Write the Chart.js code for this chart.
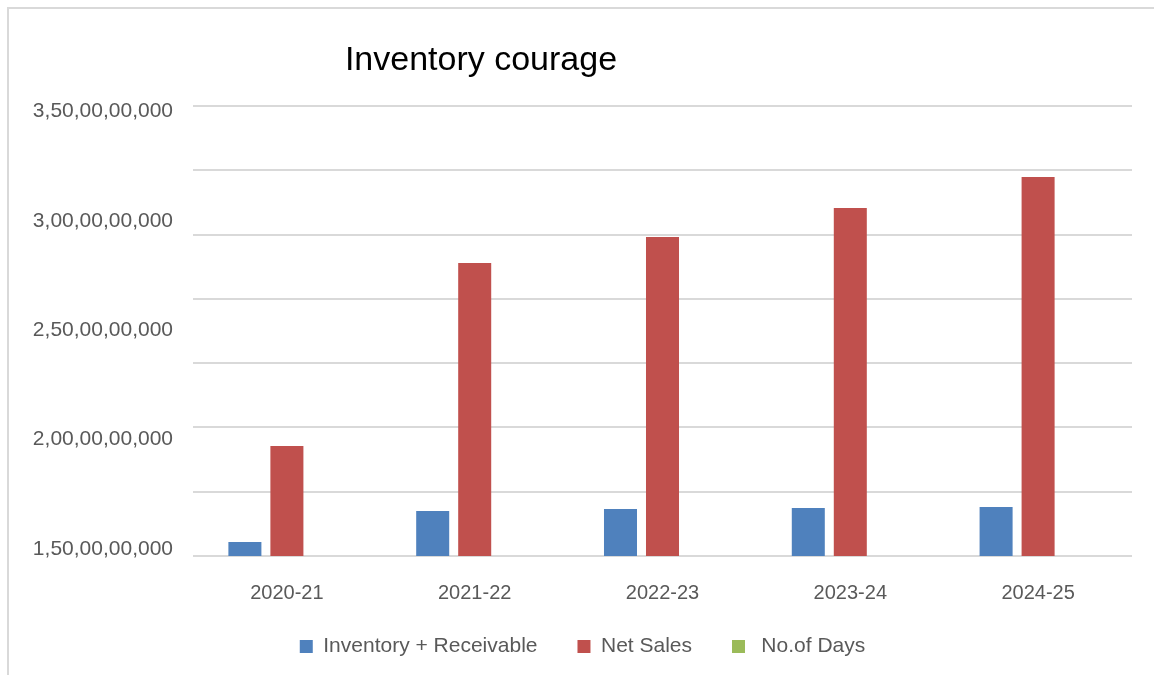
<!DOCTYPE html>
<html>
<head>
<meta charset="utf-8">
<title>Inventory courage</title>
<script src="https://cdn.jsdelivr.net/npm/chart.js@4/dist/chart.umd.min.js"></script>
<style>
  html, body { margin: 0; padding: 0; background: #fff; }
  .wrap { position: relative; width: 1154px; height: 675px; overflow: hidden; }
  .frame { position: absolute; left: 7px; top: 7px; right: -10px; bottom: -10px;
           border-top: 2px solid #d9d9d9; border-left: 2px solid #d9d9d9; }
  canvas { position: absolute; left: 0; top: 0; }
</style>
</head>
<body>
<div class="wrap">
  <div class="frame"></div>
  <canvas id="js_invChart" width="1154" height="675"></canvas>
</div>
<script>
// chart data
const years = ['2020-21', '2021-22', '2022-23', '2023-24', '2024-25'];
const inventoryReceivable = [1532000000, 1674000000, 1683000000, 1688000000, 1692000000];
const netSales = [1971000000, 2808000000, 2927000000, 3060000000, 3201000000];
const noOfDays = [null, null, null, null, null]; // too small to show above the axis minimum
const yTickValues = [1500000000, 2000000000, 2500000000, 3000000000, 3500000000];

const textColor = '#595959';
const fontFamily = '"Liberation Sans", Arial, sans-serif';

// 3,50,00,00,000 style grouping
const indianFormat = (n) => {
  const s = String(Math.round(n));
  const last3 = s.slice(-3);
  const rest = s.slice(0, -3).replace(/\B(?=(\d{2})+(?!\d))/g, ',');
  return rest ? `${rest},${last3}` : last3;
};

// title sits left of centre in the original, so draw it by hand
const titlePlugin = {
  id: 'sideTitle',
  afterDraw: (chart, args, opts) => {
    const { ctx } = chart;
    ctx.save();
    ctx.font = `34px ${fontFamily}`;
    ctx.fillStyle = '#000';
    ctx.textAlign = 'center';
    ctx.textBaseline = 'alphabetic';
    ctx.fillText(opts.text, opts.x, opts.y);
    ctx.restore();
  },
};

// nudge the legend up a bit, its row sits higher than chart.js puts it
const legendNudge = {
  id: 'legendNudge',
  afterLayout: (chart) => {
    chart.legend.top -= 6;
    chart.legend.bottom -= 6;
  },
};

document.addEventListener('DOMContentLoaded', () => {
  const ctx = document.getElementById('js_invChart');

  new Chart(ctx, {
    type: 'bar',
    data: {
      labels: years,
      datasets: [
        { label: 'Inventory + Receivable', data: inventoryReceivable, backgroundColor: '#4f81bd', yAxisID: 'y' },
        { label: 'Net Sales', data: netSales, backgroundColor: '#c0504d', yAxisID: 'y' },
        { label: ' No.of Days', data: noOfDays, backgroundColor: '#9bbb59', yAxisID: 'y' },
      ],
    },
    options: {
      responsive: false,
      animation: false,
      categoryPercentage: 0.671,
      barPercentage: 0.786,
      layout: { padding: { top: 106, right: 22, bottom: 2, left: 33 } },
      scales: {
        x: {
          grid: { display: false, drawTicks: false },
          border: { display: false },
          ticks: { color: textColor, font: { family: fontFamily, size: 20 }, padding: 25 },
          afterFit: (s) => { s.height = 46; },
        },
        y: {
          position: 'left',
          min: 1468000000,
          max: 3526000000,
          afterBuildTicks: (s) => { s.ticks = yTickValues.map(v => ({ value: v })); },
          grid: { display: false, drawTicks: false },
          border: { display: false },
          ticks: {
            color: textColor,
            font: { family: fontFamily, size: 21 },
            padding: 20,
            callback: v => indianFormat(v),
          },
          afterFit: (s) => { s.width = 160; },
        },
        gridY: {
          position: 'right',
          min: 1500000000,
          max: 3500000000,
          ticks: { display: false, count: 8 },
          grid: { color: '#d9d9d9', lineWidth: 2, drawTicks: false },
          border: { display: false },
          afterFit: (s) => { s.width = 0; },
        },
      },
      plugins: {
        legend: {
          position: 'bottom',
          labels: {
            color: textColor,
            font: { family: fontFamily, size: 21 },
            boxWidth: 13,
            boxHeight: 13,
            padding: 40,
          },
        },
        tooltip: { enabled: false },
        sideTitle: { text: 'Inventory courage', x: 481, y: 70 },
      },
    },
    plugins: [titlePlugin, legendNudge],
  });
});
</script>
</body>
</html>
